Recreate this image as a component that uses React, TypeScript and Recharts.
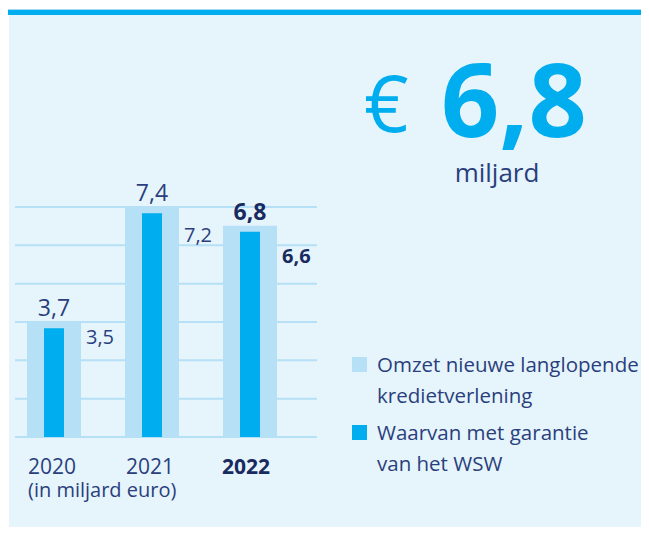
import { Bar, BarChart, CartesianGrid, LabelList, Legend, XAxis, YAxis } from "recharts";

const years = ["2020", "2021", "2022"];
const totalLending = [3.7, 7.4, 6.8];
const guaranteed = [3.5, 7.2, 6.6];
const gridValues = [0, 1.23, 2.47, 3.7, 4.93, 6.17, 7.4];
const seriesNames = ["Omzet nieuwe langlopende\nkredietverlening", "Waarvan met garantie\nvan het WSW"];
const headline = "6,8";

const LIGHT = "#b5e0f6";
const DARK = "#00adee";
const NAVY = "#2a3f7c";
const NAVY_BOLD = "#182a5e";
const FONT = "'Open Sans', sans-serif";

const data = years.map((year, i) => ({
  year,
  total: totalLending[i],
  guaranteed: guaranteed[i],
}));

const fmt = (v: number) => String(v).replace(".", ",");
const isCurrent = (i: number) => i === years.length - 1;

const NoTick = () => <g />;

const YearTick = (props: any) => {
  const { x, y, payload, index } = props;
  return (
    <text
      x={x - (isCurrent(index) ? 4 : 2)}
      y={y + 7}
      textAnchor="middle"
      fontFamily={FONT}
      fontSize={21}
      fontWeight={isCurrent(index) ? 700 : 400}
      fill={isCurrent(index) ? NAVY_BOLD : NAVY}
    >
      {payload.value}
    </text>
  );
};

const TotalLabel = (props: any) => {
  const { x, y, width, value, index } = props;
  return (
    <text
      x={x + width / 2}
      y={y - 6}
      textAnchor="middle"
      fontFamily={FONT}
      fontSize={23}
      fontWeight={isCurrent(index) ? 700 : 400}
      fill={isCurrent(index) ? NAVY_BOLD : NAVY}
    >
      {fmt(value)}
    </text>
  );
};

// the first label sits close to its bar top, the later ones a bit lower
const GuaranteedLabel = (props: any) => {
  const { x, y, width, value, index } = props;
  const drop = index === 0 ? 16 : isCurrent(index) ? 31 : 29;
  return (
    <text
      x={x + width / 2 + 32}
      y={y + drop}
      textAnchor="start"
      fontFamily={FONT}
      fontSize={20}
      fontWeight={isCurrent(index) ? 700 : 400}
      fill={isCurrent(index) ? NAVY_BOLD : NAVY}
    >
      {fmt(value)}
    </text>
  );
};

const LegendBox = (props: any) => {
  const { payload } = props;
  return (
    <div style={{ fontFamily: FONT, fontSize: 20.5, lineHeight: "31px", color: NAVY, whiteSpace: "nowrap" }}>
      {(payload || []).map((entry: any) => (
        <div key={entry.value} style={{ position: "relative", paddingLeft: 25, marginBottom: 6, whiteSpace: "pre-line" }}>
          <span
            style={{
              position: "absolute",
              left: 0,
              top: 8,
              width: 15,
              height: 15,
              background: entry.color,
            }}
          />
          {entry.value}
        </div>
      ))}
    </div>
  );
};

export default function App() {
  return (
    <div style={{ position: "relative", width: 649, height: 535, margin: -8, background: "#fff", overflow: "hidden" }}>
      <div style={{ position: "absolute", left: 0, top: 9, width: 649, height: 1, background: "#9fdaf6" }} />
      <div style={{ position: "absolute", left: 0, top: 10, width: 649, height: 5, background: "#00aeef" }} />
      <div style={{ position: "absolute", left: 9, top: 15, right: 0, bottom: 0, background: "#e6f4fc" }} />

      <svg width={649} height={535} style={{ position: "absolute", left: 0, top: 0 }}>
        <text x={364} y={132} fontFamily={FONT} fontSize={78} fill={DARK}>
          €
        </text>
        <text x={441} y={137} fontFamily={FONT} fontSize={102} fontWeight={700} fill={DARK}>
          {headline}
        </text>
        <text x={497} y={182} textAnchor="middle" fontFamily={FONT} fontSize={26} fill={NAVY}>
          miljard
        </text>
        <text x={28} y={497} fontFamily={FONT} fontSize={20} fill={NAVY}>
          (in miljard euro)
        </text>
      </svg>

      <div style={{ position: "absolute", left: 0, top: 0 }}>
        <BarChart width={649} height={535} data={data} margin={{ top: 207, right: 332, left: 15, bottom: 68 }}>
          <CartesianGrid vertical={false} stroke={LIGHT} strokeWidth={2} />
          <YAxis
            type="number"
            width={0}
            domain={[0, 7.4]}
            ticks={gridValues}
            interval={0}
            tick={<NoTick />}
            axisLine={false}
            tickLine={false}
          />
          <XAxis
            xAxisId="main"
            dataKey="year"
            height={30}
            axisLine={false}
            tickLine={false}
            tickSize={0}
            tickMargin={0}
            padding={{ left: -10, right: 18 }}
            tick={<YearTick />}
            interval={0}
          />
          <XAxis xAxisId="inner" dataKey="year" hide padding={{ left: -10, right: 18 }} />
          <Legend
            layout="horizontal"
            verticalAlign="middle"
            align="center"
            content={<LegendBox />}
            wrapperStyle={{ left: 352, top: 349, width: 297 }}
          />
          <Bar xAxisId="main" dataKey="total" name={seriesNames[0]} fill={LIGHT} barSize={54} isAnimationActive={false}>
            <LabelList dataKey="total" content={<TotalLabel />} />
          </Bar>
          <Bar xAxisId="inner" dataKey="guaranteed" name={seriesNames[1]} fill={DARK} barSize={20} isAnimationActive={false}>
            <LabelList dataKey="guaranteed" content={<GuaranteedLabel />} />
          </Bar>
        </BarChart>
      </div>
    </div>
  );
}
